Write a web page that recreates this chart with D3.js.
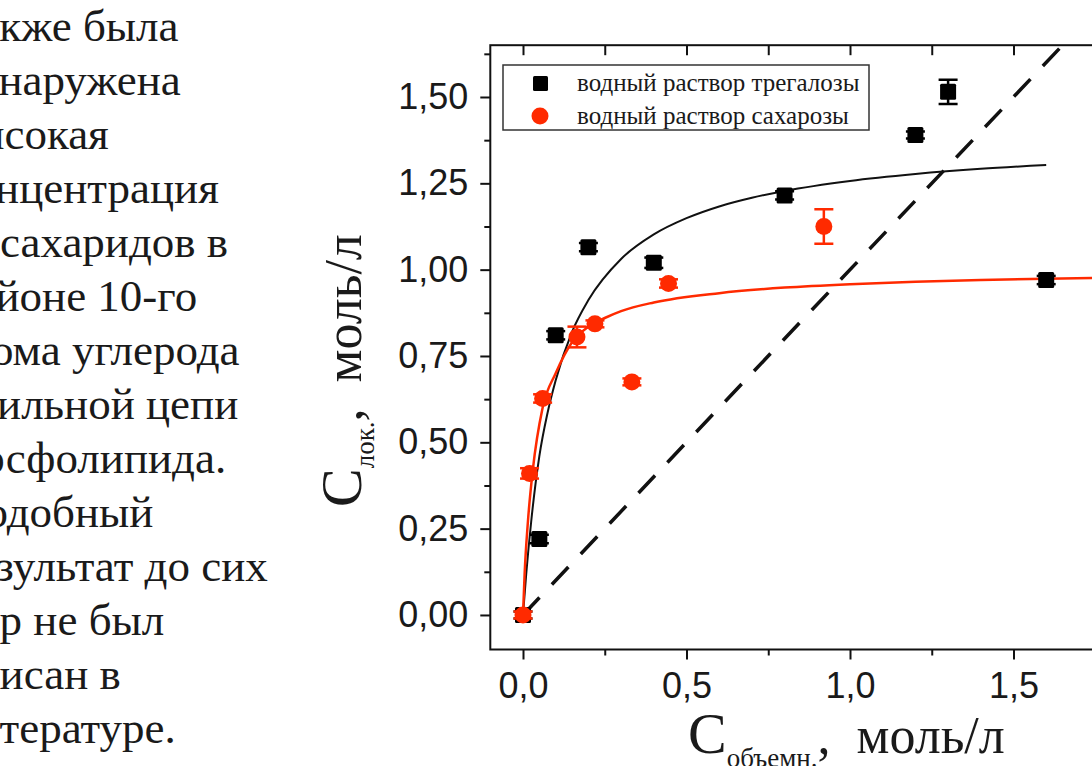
<!DOCTYPE html>
<html>
<head>
<meta charset="utf-8">
<script src="https://cdn.jsdelivr.net/npm/d3@7"></script>
<style>
    html, body { margin: 0; padding: 0; background: #fff; overflow: hidden; }
    svg { display: block; }
</style>
</head>
<body>
<div id="chart"></div>
<script>
// slide text to the left of the chart (cut by the page edge)
const paragraphLines = ['Также была', 'обнаружена', 'высокая', 'концентрация', 'дисахаридов в',
    'районе 10-го', 'атома углерода', 'ацильной цепи', 'фосфолипида.', 'Подобный',
    'результат до сих', 'пор не был', 'описан в', 'литературе.'];

// водный раствор трегалозы (black squares)
const trehaloseX   = [0, 0.05, 0.1, 0.2, 0.4, 0.8, 1.2, 1.3, 1.6];
const trehaloseY   = [0, 0.22, 0.81, 1.065, 1.02, 1.215, 1.39, 1.515, 0.97];
const trehaloseErr = [0.01, 0.012, 0.012, 0.012, 0.015, 0.012, 0.01, 0.035, 0.012];

// водный раствор сахарозы (red circles)
const sucroseX   = [0, 0.02, 0.06, 0.165, 0.22, 0.333, 0.445, 0.92];
const sucroseY   = [0, 0.41, 0.627, 0.805, 0.843, 0.675, 0.96, 1.125];
const sucroseErr = [0.01, 0.015, 0.012, 0.03, 0.01, 0.01, 0.012, 0.05];

// fitted curves
const trehaloseFitX = [0, 0.01, 0.025, 0.05, 0.075, 0.1, 0.15, 0.2, 0.3, 0.4, 0.5, 0.6, 0.7, 0.8, 1.0, 1.2, 1.4, 1.6];
const trehaloseFitY = [0, 0.12, 0.27, 0.46, 0.585, 0.68, 0.82, 0.912, 1.031, 1.102, 1.149, 1.183, 1.208, 1.228, 1.257, 1.277, 1.292, 1.303];
const sucroseFitX = [0, 0.005, 0.015, 0.03, 0.06, 0.1, 0.15, 0.2, 0.25, 0.3, 0.4, 0.6, 0.8, 1.0, 1.2, 1.4, 1.6, 1.8];
const sucroseFitY = [0, 0.12, 0.27, 0.42, 0.6, 0.7, 0.79, 0.835, 0.86, 0.88, 0.905, 0.932, 0.948, 0.958, 0.965, 0.97, 0.974, 0.977];

// C_лок = C_объемн reference line
const diagX = [0, 1.65];
const diagY = [0, 1.65];

const yTicks = [0, 0.25, 0.5, 0.75, 1.0, 1.25, 1.5];
const yMinor = [0.125, 0.375, 0.625, 0.875, 1.125, 1.375, 1.625];
const xTicks = [0, 0.5, 1.0, 1.5];
const xMinor = [0.25, 0.75, 1.25, 1.75];
const xTop   = [0, 0.25, 0.5, 0.75, 1.0, 1.25, 1.5, 1.75];

const legendNames = ['водный раствор трегалозы', 'водный раствор сахарозы'];

const RED = '#ff2a00';
const W = 1092, H = 766;
const serif = '"Liberation Serif", "Times New Roman", serif';

const svg = d3.select('#chart').append('svg')
    .attr('width', W)
    .attr('height', H);

// left text
svg.append('g')
    .selectAll('text')
    .data(paragraphLines)
    .enter()
    .append('text')
    .attr('x', -47)
    .attr('y', function(d, i) { return 41 + i * 54; })
    .attr('font-family', serif)
    .attr('font-size', 45)
    .attr('fill', '#1a1a1a')
    .text(function(d) { return d; });

const x = d3.scaleLinear().domain([-0.1, 1.8]).range([490.3, 1111.6]);
const y = d3.scaleLinear().domain([-0.1, 1.65]).range([649.5, 45.2]);

const commaFmt = function(f) {
    return function(v) { return d3.format(f)(v).replace('.', ','); };
};

// axes
const leftAxis = svg.append('g').attr('transform', 'translate(' + x(-0.1) + ',0)');
leftAxis.call(d3.axisLeft(y).tickValues(yTicks).tickSize(10).tickPadding(12).tickFormat(commaFmt('.2f')));
const leftMinor = svg.append('g').attr('transform', 'translate(' + x(-0.1) + ',0)');
leftMinor.call(d3.axisLeft(y).tickValues(yMinor).tickSize(6).tickFormat(''));

const bottomAxis = svg.append('g').attr('transform', 'translate(0,' + y(-0.1) + ')');
bottomAxis.call(d3.axisBottom(x).tickValues(xTicks).tickSize(10).tickPadding(13).tickFormat(commaFmt('.1f')));
const bottomMinor = svg.append('g').attr('transform', 'translate(0,' + y(-0.1) + ')');
bottomMinor.call(d3.axisBottom(x).tickValues(xMinor).tickSize(6).tickFormat(''));

const topAxis = svg.append('g').attr('transform', 'translate(0,' + y(1.65) + ')');
topAxis.call(d3.axisBottom(x).tickValues(xTop).tickSize(10).tickFormat(''));

svg.selectAll('.domain').remove();
svg.selectAll('.tick line').attr('stroke', '#111').attr('stroke-width', 2);
svg.selectAll('.tick text')
    .attr('font-family', '"Liberation Sans", Arial, sans-serif')
    .attr('font-size', 36)
    .attr('fill', '#1a1a1a');

// frame
svg.append('rect')
    .attr('x', x(-0.1))
    .attr('y', y(1.65))
    .attr('width', x(1.8) - x(-0.1))
    .attr('height', y(-0.1) - y(1.65))
    .attr('fill', 'none')
    .attr('stroke', '#111')
    .attr('stroke-width', 2);

svg.append('clipPath').attr('id', 'plotClip')
    .append('rect')
    .attr('x', x(-0.1))
    .attr('y', y(1.65))
    .attr('width', x(1.8) - x(-0.1))
    .attr('height', y(-0.1) - y(1.65));

const plot = svg.append('g').attr('clip-path', 'url(#plotClip)');

const line = d3.line()
    .x(function(d) { return x(d[0]); })
    .y(function(d) { return y(d[1]); })
    .curve(d3.curveMonotoneX);

plot.append('path')
    .datum(d3.zip(diagX, diagY))
    .attr('d', line)
    .attr('fill', 'none')
    .attr('stroke', '#111')
    .attr('stroke-width', 3.5)
    .attr('stroke-dasharray', '24 18');

plot.append('path')
    .datum(d3.zip(trehaloseFitX, trehaloseFitY))
    .attr('d', line)
    .attr('fill', 'none')
    .attr('stroke', '#111')
    .attr('stroke-width', 2);

plot.append('path')
    .datum(d3.zip(sucroseFitX, sucroseFitY))
    .attr('d', line)
    .attr('fill', 'none')
    .attr('stroke', RED)
    .attr('stroke-width', 2.5);

function errorBars(g, xs, ys, errs, color) {
    const data = d3.zip(xs, ys, errs);
    const eb = g.append('g').attr('stroke', color).attr('stroke-width', 2.5);
    eb.selectAll('.v').data(data).enter().append('line')
        .attr('x1', function(d) { return x(d[0]); })
        .attr('x2', function(d) { return x(d[0]); })
        .attr('y1', function(d) { return y(d[1] - d[2]); })
        .attr('y2', function(d) { return y(d[1] + d[2]); });
    [-1, 1].forEach(function(s) {
        eb.selectAll('.c' + s).data(data).enter().append('line')
            .attr('x1', function(d) { return x(d[0]) - 9.5; })
            .attr('x2', function(d) { return x(d[0]) + 9.5; })
            .attr('y1', function(d) { return y(d[1] + s * d[2]); })
            .attr('y2', function(d) { return y(d[1] + s * d[2]); });
    });
}

errorBars(plot, trehaloseX, trehaloseY, trehaloseErr, '#000');
plot.append('g').selectAll('rect')
    .data(d3.zip(trehaloseX, trehaloseY))
    .enter()
    .append('rect')
    .attr('x', function(d) { return x(d[0]) - 8; })
    .attr('y', function(d) { return y(d[1]) - 8; })
    .attr('width', 16)
    .attr('height', 16)
    .attr('rx', 1.5)
    .attr('fill', '#000');

errorBars(plot, sucroseX, sucroseY, sucroseErr, RED);
plot.append('g').selectAll('circle')
    .data(d3.zip(sucroseX, sucroseY))
    .enter()
    .append('circle')
    .attr('cx', function(d) { return x(d[0]); })
    .attr('cy', function(d) { return y(d[1]); })
    .attr('r', 8.5)
    .attr('fill', RED);

// legend
const legend = svg.append('g');
legend.append('rect')
    .attr('x', 503).attr('y', 65)
    .attr('width', 366).attr('height', 65)
    .attr('fill', '#fff')
    .attr('stroke', '#333')
    .attr('stroke-width', 1.5);
legend.append('rect')
    .attr('x', 533).attr('y', 76)
    .attr('width', 15).attr('height', 15)
    .attr('rx', 1.5)
    .attr('fill', '#000');
legend.append('circle')
    .attr('cx', 540).attr('cy', 116)
    .attr('r', 8.5)
    .attr('fill', RED);
legend.selectAll('text')
    .data(legendNames)
    .enter()
    .append('text')
    .attr('x', 577)
    .attr('y', function(d, i) { return 91 + i * 33; })
    .attr('font-family', serif)
    .attr('font-size', 25)
    .attr('fill', '#1a1a1a')
    .text(function(d) { return d; });

// axis titles
const yTitle = svg.append('text')
    .attr('transform', 'translate(361,507) rotate(-90)')
    .attr('font-family', serif)
    .attr('fill', '#1a1a1a');
yTitle.append('tspan').attr('font-size', 58).text('С');
yTitle.append('tspan').attr('font-size', 27).attr('dy', 13).text('лок.');
yTitle.append('tspan').attr('font-size', 52).attr('dy', -13).text(',\u2002моль/л');

const xTitle = svg.append('text')
    .attr('x', 688)
    .attr('y', 753)
    .attr('font-family', serif)
    .attr('fill', '#1a1a1a');
xTitle.append('tspan').attr('font-size', 58).text('С');
xTitle.append('tspan').attr('font-size', 27).attr('dy', 14).text('объемн.');
xTitle.append('tspan').attr('font-size', 52).attr('dy', -14).text(',\u2002моль/л');
</script>
</body>
</html>
